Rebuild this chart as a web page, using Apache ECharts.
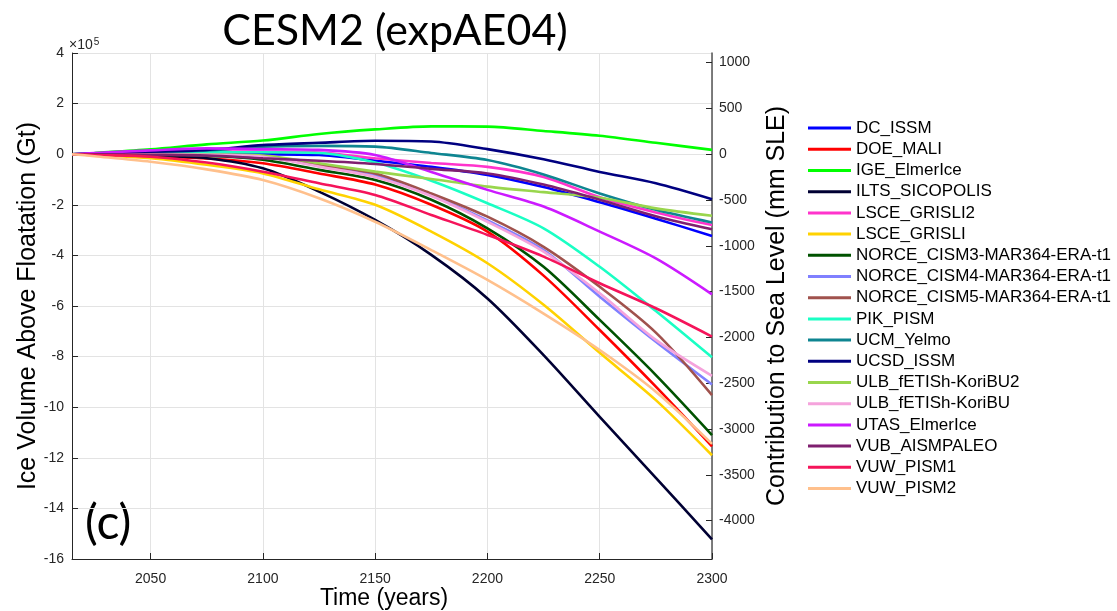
<!DOCTYPE html>
<html><head><meta charset="utf-8">
<script src="https://cdn.jsdelivr.net/npm/echarts@6/dist/echarts.min.js"></script>
<style>html,body{margin:0;padding:0;background:#fff}#c{width:1117px;height:611px}</style>
</head><body><div id="c"></div>
<script>
// Years sampled (x) and ice volume above floatation in units of 1e5 Gt
const years = [2015, 2025, 2050, 2075, 2100, 2125, 2150, 2175, 2200, 2225, 2250, 2275, 2300];
const DC_ISSM        = [0, 0.00, 0.02, 0.03, 0.00, -0.03, -0.26, -0.50, -0.82, -1.30, -1.90, -2.55, -3.23];
const DOE_MALI       = [0, -0.02, -0.10, -0.17, -0.36, -0.76, -1.20, -2.00, -3.06, -4.80, -6.95, -9.19, -11.55];
const IGE_ElmerIce   = [0, 0.05, 0.19, 0.39, 0.54, 0.80, 0.98, 1.10, 1.09, 0.92, 0.73, 0.45, 0.17];
const ILTS_SICOPOLIS = [0, -0.02, -0.06, -0.16, -0.56, -1.48, -2.60, -3.98, -5.70, -7.94, -10.38, -12.79, -15.22];
const LSCE_GRISLI2   = [0, 0.02, 0.06, 0.10, 0.10, 0.07, -0.16, -0.35, -0.50, -0.90, -1.70, -2.30, -2.80];
const LSCE_GRISLI    = [0, -0.04, -0.16, -0.42, -0.76, -1.39, -2.00, -3.06, -4.31, -5.95, -7.85, -9.72, -11.90];
const NORCE_CISM3    = [0, -0.01, -0.03, -0.06, -0.22, -0.62, -1.02, -1.80, -2.93, -4.45, -6.55, -8.73, -11.10];
const NORCE_CISM4    = [0, 0.00, -0.01, -0.03, -0.10, -0.45, -0.82, -1.62, -2.62, -3.79, -5.63, -7.41, -9.10];
const NORCE_CISM5    = [0, 0.00, -0.01, -0.03, -0.10, -0.43, -0.76, -1.55, -2.47, -3.66, -5.24, -7.05, -9.52];
const PIK_PISM       = [0, 0.01, 0.04, 0.08, 0.08, 0.05, -0.33, -1.05, -1.94, -2.93, -4.45, -6.20, -8.03];
const UCM_Yelmo      = [0, 0.02, 0.08, 0.15, 0.30, 0.33, 0.30, 0.05, -0.23, -0.80, -1.55, -2.20, -2.70];
const UCSD_ISSM      = [0, 0.03, 0.10, 0.17, 0.36, 0.45, 0.53, 0.50, 0.20, -0.20, -0.70, -1.15, -1.78];
const ULB_KoriBU2    = [0, 0.00, 0.00, -0.01, -0.05, -0.36, -0.69, -0.98, -1.28, -1.50, -1.72, -2.14, -2.43];
const ULB_KoriBU     = [0, 0.00, -0.01, -0.02, -0.10, -0.49, -0.90, -1.65, -2.67, -3.85, -5.50, -7.34, -8.76];
const UTAS_ElmerIce  = [0, 0.05, 0.15, 0.23, 0.20, 0.17, -0.03, -0.70, -1.41, -2.07, -3.06, -4.12, -5.54];
const VUB_AISMPALEO  = [0, 0.00, -0.02, -0.05, -0.16, -0.26, -0.39, -0.58, -0.76, -1.20, -1.80, -2.45, -2.97];
const VUW_PISM1      = [0, -0.03, -0.10, -0.33, -0.69, -1.15, -1.61, -2.40, -3.19, -4.05, -5.10, -6.09, -7.21];
const VUW_PISM2      = [0, -0.08, -0.30, -0.60, -1.02, -1.74, -2.67, -3.79, -4.97, -6.30, -7.74, -9.39, -11.45];

const seriesNames = ['DC_ISSM','DOE_MALI','IGE_ElmerIce','ILTS_SICOPOLIS','LSCE_GRISLI2','LSCE_GRISLI',
  'NORCE_CISM3-MAR364-ERA-t1','NORCE_CISM4-MAR364-ERA-t1','NORCE_CISM5-MAR364-ERA-t1','PIK_PISM','UCM_Yelmo',
  'UCSD_ISSM','ULB_fETISh-KoriBU2','ULB_fETISh-KoriBU','UTAS_ElmerIce','VUB_AISMPALEO','VUW_PISM1','VUW_PISM2'];
const seriesValues = [DC_ISSM, DOE_MALI, IGE_ElmerIce, ILTS_SICOPOLIS, LSCE_GRISLI2, LSCE_GRISLI,
  NORCE_CISM3, NORCE_CISM4, NORCE_CISM5, PIK_PISM, UCM_Yelmo, UCSD_ISSM, ULB_KoriBU2, ULB_KoriBU,
  UTAS_ElmerIce, VUB_AISMPALEO, VUW_PISM1, VUW_PISM2];
const seriesColors = ['#0000ff','#ff0000','#00ff00','#000033','#ff33cc','#ffd200',
  '#005200','#8080ff','#a0524d','#1affc4','#0e8591','#000080','#99d64d','#f5a3dc',
  '#cc1aff','#7f1f6f','#f5145a','#ffc08c'];

const xTicks = [2050, 2100, 2150, 2200, 2250, 2300];
const rightTicks = [1000, 500, 0, -500, -1000, -1500, -2000, -2500, -3000, -3500, -4000];
const GT_PER_MM_SLE = 362;       // Gt of ice per mm of sea level
const leftMin = -16, leftMax = 4; // in 1e5 Gt

const chart = echarts.init(document.getElementById('c'), null, {renderer: 'canvas'});
const tickFont = {fontFamily: 'Liberation Sans', fontSize: 14, color: '#262626'};
const yNameFont = {fontFamily: 'Liberation Sans', fontSize: 25, color: '#000'};
const xNameFont = {fontFamily: 'Liberation Sans', fontSize: 23, color: '#000', padding: [0, 16, 0, 0]};

const series = seriesNames.map((n, i) => ({
  name: n, type: 'line', yAxisIndex: 0, showSymbol: false, smooth: 0.3,
  lineStyle: {width: 2.6, color: seriesColors[i]}, itemStyle: {color: seriesColors[i]},
  data: years.map((y, k) => [y, seriesValues[i][k]])
}));

chart.setOption({
  animation: false,
  backgroundColor: '#fff',
  title: {text: 'CESM2 (expAE04)', left: 390, textAlign: 'center', top: 5,
    textStyle: {fontFamily: 'Lato', fontSize: 43, fontWeight: 'normal', color: '#000'}},
  grid: {left: 72, right: 405, top: 53, bottom: 52, containLabel: false, outerBoundsMode: 'none'},
  legend: {orient: 'vertical', left: 808, top: 117.5, padding: 0, icon: 'rect', itemWidth: 43, itemHeight: 3,
    itemGap: 0, data: seriesNames,
    textStyle: {fontFamily: 'Liberation Sans', fontSize: 17, color: '#000', lineHeight: 21.2}},
  xAxis: {type: 'value', min: 2015, max: 2300,
    name: 'Time (years)', nameLocation: 'middle', nameGap: 28, nameMoveOverlap: false, nameTextStyle: xNameFont,
    axisLine: {show: true, onZero: false, lineStyle: {color: '#262626', width: 1}},
    axisTick: {show: true, inside: true, length: 6, customValues: xTicks, lineStyle: {color: '#262626'}},
    axisLabel: {customValues: xTicks, margin: 13, formatter: v => String(v), ...tickFont},
    splitLine: {show: true, lineStyle: {color: '#e3e3e3', width: 1}}},
  yAxis: [
    {type: 'value', min: leftMin, max: leftMax, interval: 2, position: 'left',
      name: 'Ice Volume Above Floatation (Gt)', nameLocation: 'middle', nameGap: 31, nameRotate: 90,
      nameMoveOverlap: false, nameTextStyle: yNameFont,
      axisLine: {show: true, onZero: false, lineStyle: {color: '#262626', width: 1}},
      axisTick: {show: true, inside: true, length: 6, lineStyle: {color: '#262626'}},
      axisLabel: {margin: 8, ...tickFont},
      splitLine: {show: true, lineStyle: {color: '#e3e3e3', width: 1}}},
    {type: 'value', position: 'right',
      min: leftMin * 1e5 / GT_PER_MM_SLE, max: leftMax * 1e5 / GT_PER_MM_SLE,
      name: 'Contribution to Sea Level (mm SLE)', nameLocation: 'middle', nameGap: 53, nameRotate: 90,
      nameMoveOverlap: false, nameTextStyle: yNameFont,
      axisLine: {show: true, onZero: false, lineStyle: {color: '#555', width: 1.5}},
      axisTick: {show: true, inside: true, length: 6, customValues: rightTicks, lineStyle: {color: '#262626'}},
      axisLabel: {customValues: rightTicks, margin: 7, formatter: v => String(v), ...tickFont},
      splitLine: {show: false}}
  ],
  graphic: [
    {type: 'text', left: 69, top: 37, style: {text: '×10{s|5}', fill: '#262626',
      font: '14px "Liberation Sans"', rich: {s: {fontSize: 10, verticalAlign: 'top', padding: [0,0,6,1], fontFamily: 'Liberation Sans'}}}},
    {type: 'text', left: 85, top: 500, style: {text: '(c)', fill: '#000', font: '48px Lato'}}
  ],
  series: series
});
</script></body></html>
